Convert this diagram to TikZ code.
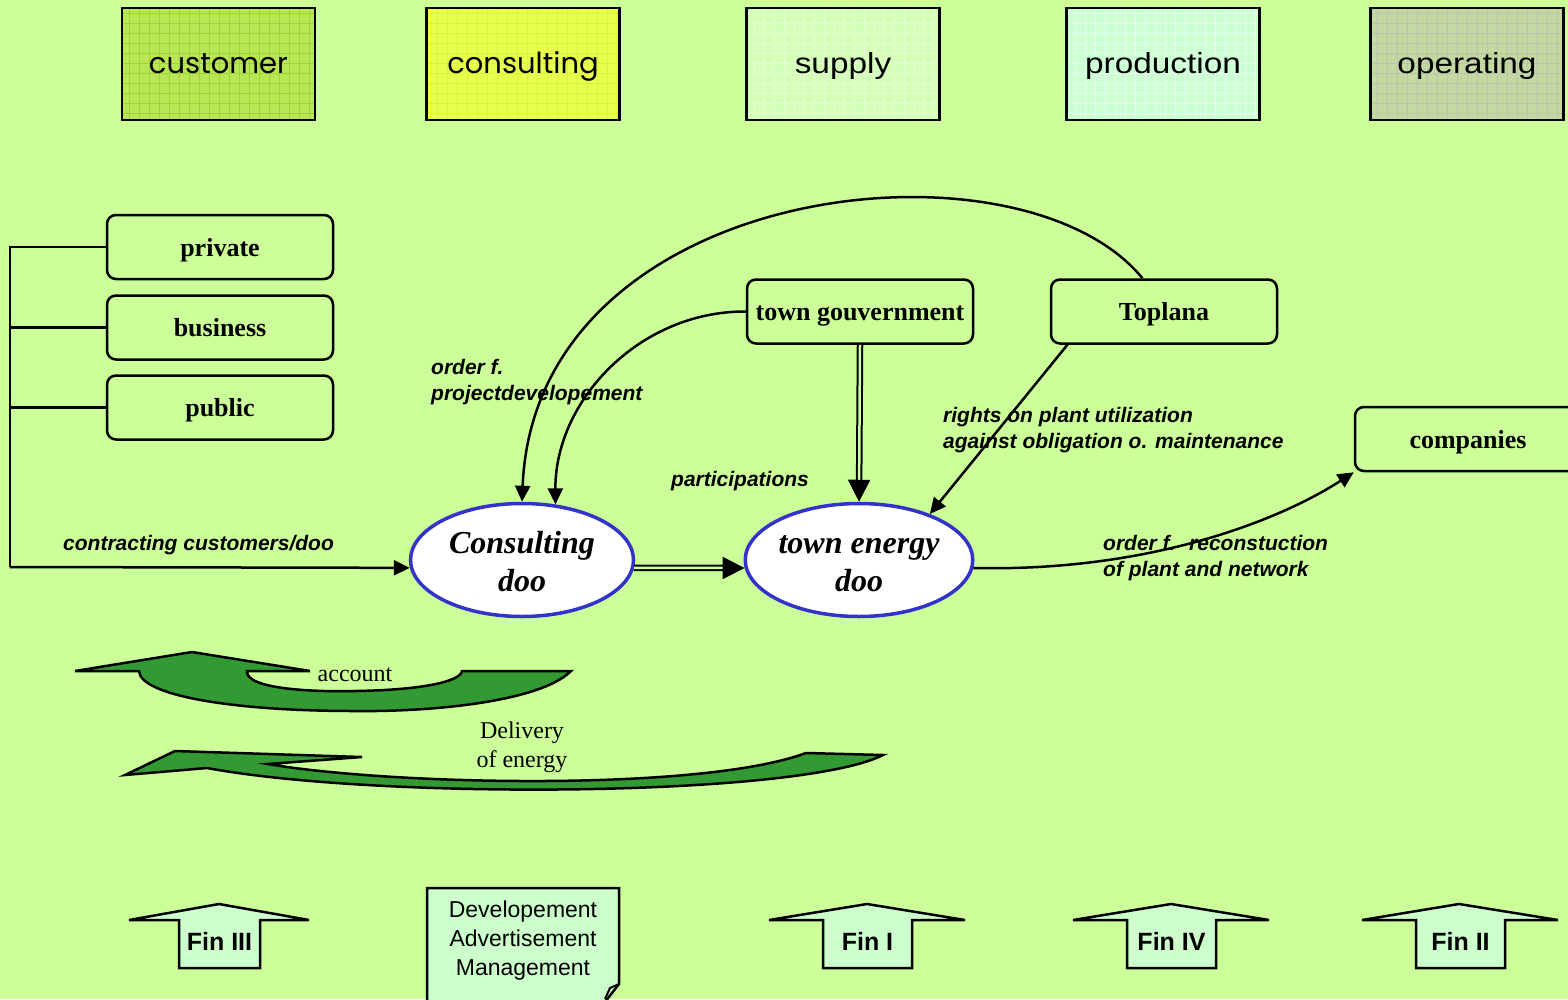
\documentclass[tikz,border=0pt]{standalone}
\usepackage{fontspec}
\setmainfont{Liberation Serif}
\newfontfamily\sansf{Liberation Sans}
\newfontfamily\popf{Poppins}
\newfontfamily\widesans[FakeStretch=1.15]{Liberation Sans}
\usetikzlibrary{arrows.meta,shapes.geometric}
\definecolor{bg}{HTML}{CCFF99}
\definecolor{custfill}{HTML}{B8E655}
\definecolor{custgrid}{HTML}{9FD233}
\definecolor{consfill}{HTML}{E8FF4D}
\definecolor{consgrid}{HTML}{DDF23A}
\definecolor{supfill}{HTML}{D4FFB8}
\definecolor{supgrid}{HTML}{E2FFCF}
\definecolor{prodfill}{HTML}{CCFFD2}
\definecolor{prodgrid}{HTML}{E2FFEE}
\definecolor{opfill}{HTML}{C4D9A2}
\definecolor{opgrid}{HTML}{B8C6AC}
\definecolor{garrowfill}{HTML}{339933}
\definecolor{lightfill}{HTML}{CCFFCC}
\definecolor{ellblue}{HTML}{3333CC}
\begin{document}
\begin{tikzpicture}[x=1pt,y=-1pt,
  topbox/.style 2 args={draw, line width=2.5pt, fill=#1, minimum width=193pt, minimum height=112pt, inner sep=0pt,
    text height=21pt, text depth=3pt,
    path picture={\draw[#2, line width=0.7pt, step=10pt] (path picture bounding box.south west) grid (path picture bounding box.north east);}},
  popt/.style={font=\popf\fontsize{29}{34}\selectfont},
  widet/.style={font=\widesans\fontsize{29}{34}\selectfont},
  rbox/.style={draw, line width=2.5pt, rounded corners=9pt, minimum width=226pt, minimum height=64pt, inner sep=0pt,
    text height=18pt, text depth=0pt, font=\bfseries\fontsize{26}{30}\selectfont},
  ell/.style={ellipse, draw=ellblue, line width=3.5pt, fill=white, minimum width=223pt, minimum height=113pt,
    inner sep=0pt, align=center, font=\bfseries\itshape\fontsize{32}{38}\selectfont},
  conn/.style={line width=2.5pt},
  smallhead/.style={-{Triangle[length=16pt,width=15pt]}},
  dbl/.style={double=bg, double distance=2.5pt, line width=2pt, -{Triangle[length=22pt,width=22pt]}},
  lab/.style={font=\sansf\bfseries\itshape\fontsize{21}{26}\selectfont, inner sep=0pt, align=left},
  sertext/.style={font=\fontsize{24}{29}\selectfont, inner sep=0pt, align=center},
  garrow/.style={fill=garrowfill, draw=black, line width=2.5pt, line join=miter},
  finshape/.style={fill=lightfill, draw=black, line width=2.5pt, line join=miter},
  fintext/.style={font=\sansf\bfseries\fontsize{25}{30}\selectfont, inner sep=0pt}
]
\useasboundingbox (0,0) rectangle (1568,999);
\fill[bg] (0,0) rectangle (1568,999);

% top boxes
\node[topbox={custfill}{custgrid}, popt] (cust) at (218.5,64) {customer};
\node[topbox={consfill}{consgrid}, popt] (consu) at (523,64) {consulting};
\node[topbox={supfill}{supgrid}, widet] (sup) at (843,64) {supply};
\node[topbox={prodfill}{prodgrid}, widet] (prod) at (1163,64) {production};
\node[topbox={opfill}{opgrid}, widet] (oper) at (1467,64) {operating};

% left boxes
\node[rbox] (pri) at (220,247) {private};
\node[rbox] (bus) at (220,327.5) {business};
\node[rbox] (pub) at (220,407.5) {public};

% middle boxes
\node[rbox] (tg) at (860,311.5) {town gouvernment};
\node[rbox] (top) at (1164,311.5) {Toplana};
\node[rbox] (comp) at (1468,439) {companies};

% ellipses
\node[ell] (cons) at (522,560) {\rule{0pt}{26pt}Consulting\\doo};
\node[ell] (ten) at (859,560) {\rule{0pt}{26pt}town energy\\doo};

% bracket
\coordinate (bt) at (10,247);
\coordinate (bb) at (10,567);
\draw[conn, line join=miter] (pri.west) -- (bt) -- (bb);
\draw[conn] (bus.west) -- (bus.west -| bt);
\draw[conn] (pub.west) -- (pub.west -| bt);
\draw[conn, smallhead] (bb) -- (cons.184);

% connectors
\draw[dbl] (cons.-4) -- (ten.184);
\draw[dbl] (tg.south) -- (ten.north);
\draw[conn, smallhead] (top.123) .. controls (1020,128) and (535,180) .. (cons.north);
\draw[conn, smallhead] (tg.west) .. controls (640,311) and (555,400) .. (cons.59);
\draw[conn, smallhead] (top.-161.5) -- (ten.33);
\draw[conn, smallhead] (ten.-4) .. controls (1150,572) and (1280,520) .. (comp.south west);

% labels
\node[lab, anchor=west] (l1) at (63,545) {contracting customers/doo};
\node[lab, anchor=west] (l2) at (431,382) {order f.\\projectdevelopement};
\node[lab, anchor=west] (l3) at (671,481) {participations};
\node[lab, anchor=west] (l4) at (943,430) {rights on plant utilization\\against obligation o. maintenance};
\node[lab, anchor=west] (l5) at (1103,558) {order f.~ reconstuction\\of plant and network};

% green arrows
\filldraw[garrow] (75,671) -- (192,652) -- (310,671) -- (247,671)
  .. controls (245,690) and (320,692) .. (355,691)
  .. controls (420,690) and (460,682) .. (462,671) -- (571,671)
  .. controls (540,702) and (430,712) .. (355,711)
  .. controls (230,711) and (140,695) .. (139,671) -- cycle;
\node[sertext] (acc) at (355,675) {account};

\filldraw[garrow] (125,775) -- (175,751) -- (362,757) -- (268,764)
  .. controls (390,785) and (700,792) .. (806,753) -- (883,755)
  .. controls (800,797) and (380,800) .. (207,768) -- cycle;
\node[sertext] (del) at (522,747) {Delivery\\of energy};

% Fin arrows
\filldraw[finshape] (219,904) -- (309,920) -- (260,920) -- (260,968) -- (179,968) -- (179,920) -- (129,920) -- cycle;
\node[fintext] (fin3) at (219.5,941) {Fin III};
\filldraw[finshape] (867,904) -- (965,920) -- (912,920) -- (912,968) -- (823,968) -- (823,920) -- (769,920) -- cycle;
\node[fintext] (fin1) at (867.5,941) {Fin I};
\filldraw[finshape] (1171,904) -- (1269,920) -- (1216,920) -- (1216,968) -- (1127,968) -- (1127,920) -- (1073,920) -- cycle;
\node[fintext] (fin4) at (1171.5,941) {Fin IV};
\filldraw[finshape] (1459,904) -- (1558,920) -- (1505,920) -- (1505,968) -- (1416,968) -- (1416,920) -- (1362,920) -- cycle;
\node[fintext] (fin2) at (1460.5,941) {Fin II};

% document
\filldraw[finshape] (427,1010) -- (427,888) -- (619,888) -- (619,984) -- (605,1002) -- (605,1010) -- cycle;
\draw[line width=2pt, line join=miter] (619,984) -- (610,988) -- (605,999);
\node[font=\sansf\fontsize{23}{29}\selectfont, align=center, inner sep=0pt] (doc) at (523,941) {Developement\\Advertisement\\Management};
\end{tikzpicture}
\end{document}
